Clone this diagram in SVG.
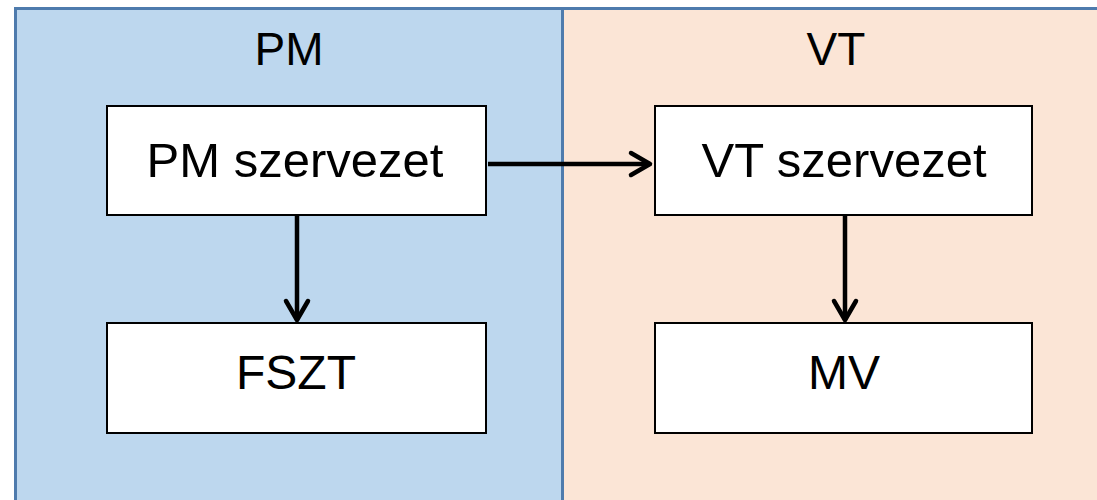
<svg xmlns="http://www.w3.org/2000/svg" width="1097" height="500" viewBox="0 0 1097 500">
<style>
.panel{stroke:#4e7bad;stroke-width:3}
.box{fill:#ffffff;stroke:#000000;stroke-width:2}
.t{font-family:"Liberation Sans",Arial,sans-serif;fill:#000000;text-anchor:middle}
.title{font-size:46px}
.lbl{font-size:49px}
.lbl2{font-size:48px}
.conn{fill:none;stroke:#000000;stroke-width:4.5}
.head{fill:none;stroke:#000000;stroke-width:4.5;stroke-linecap:round;stroke-linejoin:round}
</style>
<rect width="1097" height="500" fill="#ffffff"/>
<g id="lane-pm">
<rect class="panel" x="15.5" y="8.5" width="547" height="500" fill="#bdd7ee"/>
<text class="t title" x="289" y="65">PM</text>
</g>
<g id="lane-vt">
<rect class="panel" x="562.5" y="8.5" width="550" height="500" fill="#fbe5d6"/>
<text class="t title" x="836" y="65">VT</text>
</g>
<g id="connectors">
<line class="conn" x1="488" y1="164" x2="650" y2="164"/>
<polyline class="head" points="631,153 650,164 631,175"/>
<line class="conn" x1="297" y1="216" x2="297" y2="320"/>
<polyline class="head" points="286,301 297,320 308,301"/>
<line class="conn" x1="845" y1="216" x2="845" y2="320"/>
<polyline class="head" points="834,301 845,320 856,301"/>
</g>
<g id="node-pm-szervezet">
<rect class="box" x="107" y="106" width="379" height="109"/>
<text class="t lbl" x="295" y="177">PM szervezet</text>
</g>
<g id="node-vt-szervezet">
<rect class="box" x="655" y="106" width="377" height="109"/>
<text class="t lbl" x="844" y="177">VT szervezet</text>
</g>
<g id="node-fszt">
<rect class="box" x="107" y="323" width="379" height="110"/>
<text class="t lbl2" x="296" y="389">FSZT</text>
</g>
<g id="node-mv">
<rect class="box" x="655" y="323" width="377" height="110"/>
<text class="t lbl2" x="844" y="389">MV</text>
</g>
</svg>
